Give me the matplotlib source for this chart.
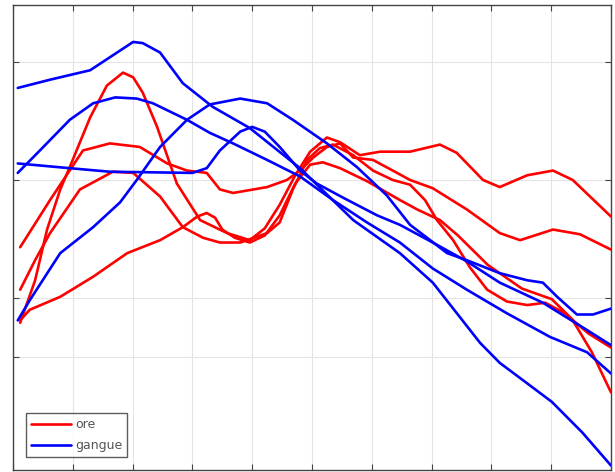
import matplotlib
matplotlib.use("Agg")
import matplotlib.pyplot as plt

# ---- data (x in tick units, y in arbitrary signal units) ----
ore_1_x = [0.12, 0.37, 0.57, 0.79, 0.95, 1.29, 1.57, 1.84, 2.01, 2.17, 2.41, 2.74, 3.13, 3.58, 3.96, 4.21,
           4.46, 4.72, 4.97, 5.25, 5.47, 5.80, 6.14, 6.64, 7.14, 7.42, 7.86, 8.14, 8.60, 9.03, 9.36, 10.0]
ore_1_y = [1.79, 2.15, 2.58, 2.92, 3.11, 3.53, 3.80, 3.91, 3.87, 3.74, 3.45, 2.97, 2.66, 2.55, 2.49, 2.59,
           2.79, 3.04, 3.24, 3.36, 3.32, 3.21, 3.24, 3.24, 3.30, 3.23, 3.00, 2.94, 3.04, 3.08, 3.00, 2.69]

ore_2_x = [0.12, 0.62, 1.17, 1.62, 2.12, 2.58, 2.91, 3.24, 3.46, 3.68, 4.25, 4.58, 4.80, 5.02, 5.25, 5.47,
           5.69, 6.02, 6.35, 6.64, 7.02, 7.59, 8.14, 8.48, 9.03, 9.48, 10.0]
ore_2_y = [2.43, 2.83, 3.25, 3.31, 3.28, 3.14, 3.08, 3.06, 2.92, 2.89, 2.94, 3.00, 3.08, 3.19, 3.28, 3.31,
           3.19, 3.17, 3.08, 3.00, 2.93, 2.75, 2.55, 2.49, 2.58, 2.54, 2.41]

ore_3_x = [0.12, 0.37, 0.62, 1.12, 1.67, 2.01, 2.46, 2.84, 3.18, 3.46, 3.80, 4.25, 4.46, 4.68, 4.92, 5.13,
           5.35, 5.69, 6.02, 6.35, 6.64, 6.89, 7.09, 7.36, 7.64, 7.93, 8.26, 8.60, 8.90, 9.23, 9.62, 10.0]
ore_3_y = [2.07, 2.32, 2.55, 2.92, 3.07, 3.06, 2.86, 2.60, 2.51, 2.47, 2.47, 2.55, 2.64, 2.92, 3.17, 3.27,
           3.30, 3.21, 3.08, 3.00, 2.96, 2.83, 2.66, 2.49, 2.26, 2.07, 1.97, 1.94, 1.96, 1.87, 1.70, 1.58]

ore_4_x = [0.12, 0.28, 0.79, 1.34, 1.91, 2.46, 2.84, 3.08, 3.24, 3.38, 3.50, 3.71, 3.96, 4.21, 4.46, 4.72,
           4.97, 5.18, 5.47, 5.92, 6.47, 6.76, 7.14, 7.44, 7.94, 8.51, 9.01, 9.35, 9.68, 10.0]
ore_4_y = [1.81, 1.90, 2.01, 2.18, 2.38, 2.49, 2.60, 2.69, 2.72, 2.68, 2.58, 2.51, 2.47, 2.53, 2.70, 2.97,
           3.13, 3.15, 3.10, 2.99, 2.83, 2.75, 2.66, 2.53, 2.28, 2.08, 1.99, 1.82, 1.54, 1.20]

gangue_1_x = [0.08, 0.62, 1.29, 1.62, 2.01, 2.17, 2.46, 2.84, 3.34, 3.96, 4.80, 5.69, 6.47, 7.02, 7.47,
              7.81, 8.14, 8.51, 9.01, 9.52, 10.0]
gangue_1_y = [3.78, 3.85, 3.93, 4.04, 4.17, 4.16, 4.08, 3.82, 3.62, 3.44, 3.10, 2.66, 2.38, 2.13, 1.84,
              1.62, 1.45, 1.31, 1.12, 0.86, 0.58]

gangue_2_x = [0.08, 0.95, 1.62, 3.00, 3.24, 3.46, 3.80, 4.00, 4.21, 4.46, 4.80, 5.08, 5.52, 6.09, 6.47,
              7.02, 7.59, 8.14, 8.86, 9.53, 10.0]
gangue_2_y = [3.14, 3.10, 3.07, 3.06, 3.10, 3.25, 3.41, 3.45, 3.41, 3.28, 3.08, 2.97, 2.85, 2.70, 2.62,
              2.47, 2.31, 2.13, 1.96, 1.75, 1.60]

gangue_3_x = [0.08, 0.45, 0.95, 1.34, 1.71, 2.07, 2.34, 2.91, 3.29, 3.68, 4.25, 4.80, 5.35, 5.92, 6.47,
              7.02, 7.59, 8.26, 8.98, 9.60, 10.0]
gangue_3_y = [3.06, 3.25, 3.51, 3.65, 3.70, 3.69, 3.65, 3.51, 3.40, 3.31, 3.17, 3.03, 2.83, 2.64, 2.47,
              2.25, 2.07, 1.87, 1.67, 1.54, 1.36]

gangue_4_x = [0.08, 0.28, 0.79, 1.34, 1.79, 2.07, 2.46, 2.91, 3.29, 3.80, 4.25, 4.68, 5.25, 5.75, 6.25,
              6.64, 7.26, 7.59, 8.14, 8.60, 8.86, 9.10, 9.43, 9.70, 10.0]
gangue_4_y = [1.81, 1.98, 2.38, 2.60, 2.81, 3.00, 3.28, 3.51, 3.64, 3.69, 3.65, 3.51, 3.31, 3.11, 2.87,
              2.62, 2.38, 2.32, 2.21, 2.15, 2.13, 2.01, 1.86, 1.86, 1.91]

ore_series = [(ore_1_x, ore_1_y), (ore_2_x, ore_2_y), (ore_3_x, ore_3_y), (ore_4_x, ore_4_y)]
gangue_series = [(gangue_1_x, gangue_1_y), (gangue_2_x, gangue_2_y),
                 (gangue_3_x, gangue_3_y), (gangue_4_x, gangue_4_y)]

x_ticks = list(range(0, 11))
y_ticks = [1.5, 2.0, 3.0, 4.0]
legend_labels = ["ore", "gangue"]

# ---- figure ----
fig = plt.figure(figsize=(6.15, 4.72), dpi=100)
ax = fig.add_axes([0.0211, 0.0042, 0.9724, 0.9852])

lw = 1.9
for i, (xs, ys) in enumerate(ore_series):
    ax.plot(xs, ys, color="#ff0000", lw=lw, solid_joinstyle="round", solid_capstyle="round",
            label=legend_labels[0] if i == 0 else None, zorder=3)
for i, (xs, ys) in enumerate(gangue_series):
    ax.plot(xs, ys, color="#0000ff", lw=lw, solid_joinstyle="round", solid_capstyle="round",
            label=legend_labels[1] if i == 0 else None, zorder=3)

ax.set_xlim(0, 10)
ax.set_ylim(0.542, 4.483)
ax.set_xticks(x_ticks)
ax.set_yticks(y_ticks)
ax.set_xticklabels([])
ax.set_yticklabels([])
ax.tick_params(direction="in", length=4, width=0.8, color="#444444",
               top=True, right=True, bottom=True, left=True)
ax.grid(True, color="#e4e4e4", lw=0.8, zorder=0)
for s in ax.spines.values():
    s.set_color("#444444")
    s.set_linewidth(1.0)

leg = ax.legend(loc="lower left", bbox_to_anchor=(0.022, 0.028), fontsize=9,
                frameon=True, fancybox=False, handlelength=3.2, handletextpad=0.3,
                borderpad=0.4, labelspacing=0.6, borderaxespad=0.0)
leg.get_frame().set_edgecolor("#333333")
leg.get_frame().set_linewidth(1.0)
for t in leg.get_texts():
    t.set_color("#555555")

fig.savefig("out.png", dpi=100)
